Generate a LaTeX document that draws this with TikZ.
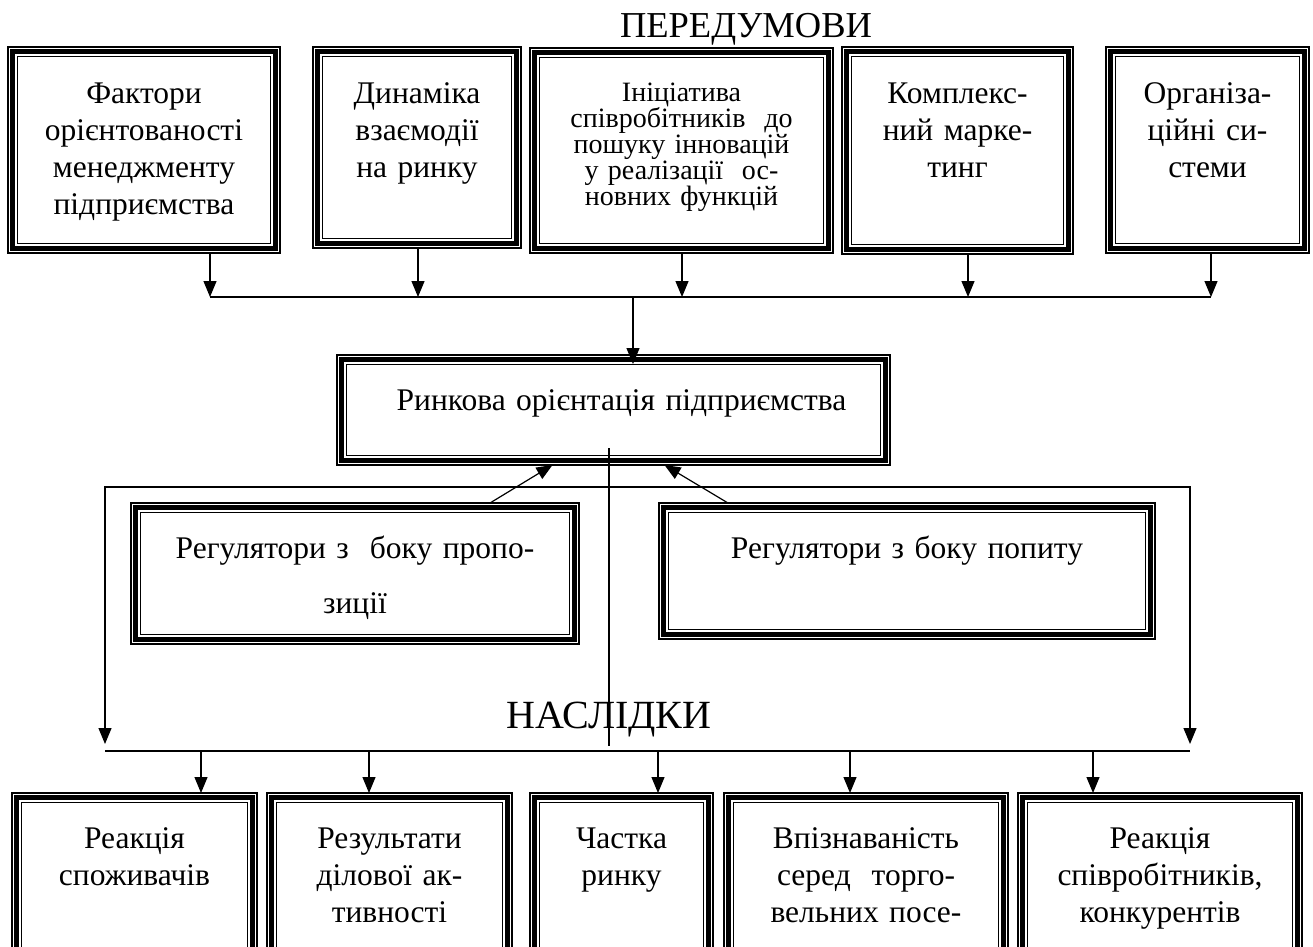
\documentclass[tikz,border=0pt]{standalone}
\usepackage{fontspec}
\setmainfont{Liberation Serif}
\usetikzlibrary{arrows.meta}

\tikzset{
  box/.style={draw, line width=1.2pt, inner sep=0pt, outer sep=0pt, anchor=north west},
  txt/.style={anchor=base, align=center, inner sep=0pt, text width=#1,
    font=\fontsize{31.5}{37}\selectfont},
  txt/.default=300pt,
  head/.style={anchor=base, inner sep=0pt, font=\fontsize{36.5}{40}\selectfont},
  arr/.style={-{Triangle[length=16pt, width=13pt]}, line width=1.2pt},
  line/.style={line width=1.2pt},
}

\begin{document}
\begin{tikzpicture}[x=1pt, y=-1pt]
\useasboundingbox (0,0) rectangle (1313,946);
\clip (0,0) rectangle (1313,946);

% headings
\node[head] (pered) at (746,37) {ПЕРЕДУМОВИ};
\node[head, font=\fontsize{40}{44}\selectfont] (nasl) at (609,728) {НАСЛІДКИ};

% top row
\node[box, minimum width=272, minimum height=206] (p1) at (8,47) {};
\node[box, minimum width=208, minimum height=201] (p2) at (313,47) {};
\node[box, minimum width=303, minimum height=205] (p3) at (530,48) {};
\node[box, minimum width=231, minimum height=207] (p4) at (842,47) {};
\node[box, minimum width=203, minimum height=206] (p5) at (1106,47) {};

\node[txt] (p1t) at ([yshift=-56]p1.north) {Фактори\\орієнтованості\\менеджменту\\підприємства};
\node[txt] (p2t) at ([yshift=-56]p2.north) {Динаміка\\взаємодії\\на ринку};
\node[txt, font=\fontsize{28}{26}\selectfont] (p3t) at ([yshift=-53]p3.north)
  {Ініціатива\\співробітників\ \ до\\пошуку інновацій\\у реалізації\ \ ос-\\новних функцій};
\node[txt] (p4t) at ([yshift=-56]p4.north) {Комплекс-\\ний марке-\\тинг};
\node[txt] (p5t) at ([yshift=-56]p5.north) {Організа-\\ційні си-\\стеми};

% centre
\node[box, minimum width=553, minimum height=110] (c) at (337,355) {};
\node[txt=540pt] (ct) at ([xshift=8, yshift=-55]c.north) {Ринкова орієнтація підприємства};

% regulators
\node[box, minimum width=448, minimum height=141] (r1) at (131,503) {};
\node[box, minimum width=496, minimum height=136] (r2) at (659,503) {};
\node[txt=440pt, font=\fontsize{31.5}{55}\selectfont] (r1t) at ([yshift=-55]r1.north)
  {Регулятори з\ \ боку пропо-\\зиції};
\node[txt=480pt] (r2t) at ([yshift=-55]r2.north) {Регулятори з боку попиту};

% bottom row
\node[box, minimum width=245, minimum height=220] (b1) at (12,793) {};
\node[box, minimum width=245, minimum height=220] (b2) at (267,793) {};
\node[box, minimum width=183, minimum height=220] (b3) at (530,793) {};
\node[box, minimum width=284, minimum height=220] (b4) at (724,793) {};
\node[box, minimum width=284, minimum height=220] (b5) at (1018,793) {};

\node[txt] (b1t) at ([yshift=-55]b1.north) {Реакція\\споживачів};
\node[txt] (b2t) at ([yshift=-55]b2.north) {Результати\\ділової ак-\\тивності};
\node[txt] (b3t) at ([yshift=-55]b3.north) {Частка\\ринку};
\node[txt] (b4t) at ([yshift=-55]b4.north) {Впізнаваність\\серед\ \ торго-\\вельних посе-};
\node[txt] (b5t) at ([yshift=-55]b5.north) {Реакція\\співробітників,\\конкурентів};

% inner frames
\foreach \b in {p1,p2,p3,p4,p5,c,r1,r2,b1,b2,b3,b4,b5} {
  \draw[line width=4.8pt] ([shift={(4.8,4.8)}]\b.north west) rectangle ([shift={(-4.8,-4.8)}]\b.south east);
  \draw[line width=1.2pt] ([shift={(9.8,9.8)}]\b.north west) rectangle ([shift={(-9.8,-9.8)}]\b.south east);
}

% upper bus
\path (210,297) coordinate (t1) (418,297) coordinate (t2) (682,297) coordinate (t3)
  (968,297) coordinate (t4) (1211,297) coordinate (t5) (633,297) coordinate (tm);
\foreach \i in {1,...,5}
  \draw[arr] (p\i.south -| t\i) -- (t\i);
\draw[line] (t1) -- (t5);
\draw[arr, shorten >=-9pt] (tm) -- (c.north -| tm);

% regulators to centre
\draw[arr] ([xshift=135]r1.north) -- ([xshift=-61]c.south);
\draw[arr] ([xshift=-179]r2.north) -- ([xshift=51]c.south);

% bracket and lower bus
\path (105,487) coordinate (ml) (1190,487) coordinate (mr)
  (105,744) coordinate (al) (1190,744) coordinate (ar)
  (105,751) coordinate (bl) (1190,751) coordinate (br) (609,746) coordinate (v);
\draw[{Triangle[length=16pt, width=13pt]}-{Triangle[length=16pt, width=13pt]}, line width=1.2pt]
  (al) -- (ml) -- (mr) -- (ar);
\draw[line] ([yshift=17]c.south -| v) -- (v);
\draw[line] (bl) -- (br);

\path (201,751) coordinate (s1) (369,751) coordinate (s2) (658,751) coordinate (s3)
  (850,751) coordinate (s4) (1093,751) coordinate (s5);
\foreach \i in {1,...,5}
  \draw[arr] (s\i) -- (b\i.north -| s\i);

\end{tikzpicture}
\end{document}
